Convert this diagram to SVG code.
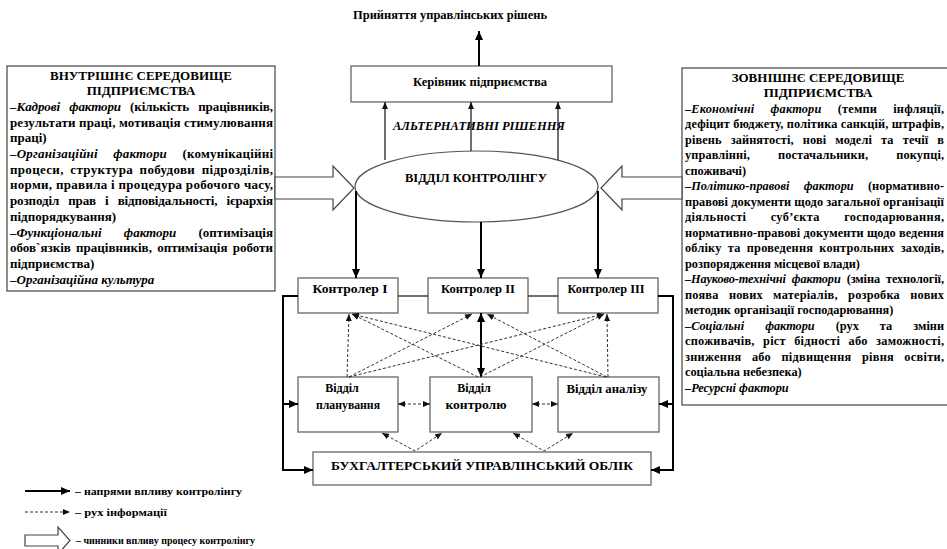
<svg xmlns="http://www.w3.org/2000/svg" width="947" height="549" viewBox="0 0 947 549">
<defs>
<style>
.t{font-family:"Liberation Serif","Times New Roman",serif;font-weight:bold;font-size:13px;fill:#000}
.s{font-size:12px}
.r{font-size:12.3px}
.c{text-anchor:middle}
.i{font-style:italic}
.box{fill:#fff;stroke:#666;stroke-width:1.3}
.env{fill:#fff;stroke:#444;stroke-width:1.2}
.thick{stroke:#000;stroke-width:2;fill:none}
.thin{stroke:#222;stroke-width:1.3;fill:none}
.dash{stroke:#333;stroke-width:1;stroke-dasharray:3 2;fill:none}
.hollow{fill:#fff;stroke:#444;stroke-width:1.2}
</style>
<marker id="a" markerUnits="userSpaceOnUse" markerWidth="9" markerHeight="8" viewBox="0 0 9 8" refX="9" refY="4" orient="auto-start-reverse"><path d="M0,0 L9,4 L0,8 z" fill="#000"/></marker>
<marker id="b" markerUnits="userSpaceOnUse" markerWidth="7" markerHeight="6" viewBox="0 0 7 6" refX="7" refY="3" orient="auto-start-reverse"><path d="M0,0 L7,3 L0,6 z" fill="#111"/></marker>
</defs>
<rect width="947" height="549" fill="#fff"/>

<g id="title">
<text class="t s c" x="450" y="19" textLength="194" lengthAdjust="spacingAndGlyphs">Прийняття управлінських рішень</text>
</g>

<g id="internal">
<rect class="env" x="7" y="66" width="268" height="225"/>
<text class="t c" x="141" y="79.5">ВНУТРІШНЄ СЕРЕДОВИЩЕ</text>
<text class="t c" x="141" y="95.2">ПІДПРИЄМСТВА</text>
<text class="t" x="10" y="110.9" textLength="263" lengthAdjust="spacing" style="word-spacing:6px"><tspan class="i">–Кадрові фактори</tspan> (кількість працівників,</text>
<text class="t" x="10" y="126.6" textLength="263" lengthAdjust="spacing">результати праці, мотивація стимулювання</text>
<text class="t" x="10" y="142.3">праці)</text>
<text class="t" x="10" y="158" textLength="263" lengthAdjust="spacing" style="word-spacing:12px"><tspan class="i">–Організаційні фактори</tspan> (комунікаційні</text>
<text class="t" x="10" y="173.7" textLength="263" lengthAdjust="spacing" style="word-spacing:3px">процеси, структура побудови підрозділів,</text>
<text class="t" x="10" y="189.4" textLength="263" lengthAdjust="spacing">норми, правила і процедура робочого часу,</text>
<text class="t" x="10" y="205.1" textLength="263" lengthAdjust="spacing" style="word-spacing:6px">розподіл прав і відповідальності, ієрархія</text>
<text class="t" x="10" y="220.8">підпорядкування)</text>
<text class="t" x="10" y="236.5" textLength="263" lengthAdjust="spacing" style="word-spacing:19px"><tspan class="i">–Функціональні фактори</tspan> (оптимізація</text>
<text class="t" x="10" y="252.2" textLength="263" lengthAdjust="spacing" style="word-spacing:2px">обов`язків працівників, оптимізація роботи</text>
<text class="t" x="10" y="267.9">підприємства)</text>
<text class="t" x="10" y="283.6"><tspan class="i">–Організаційна культура</tspan></text>
</g>

<g id="external">
<rect class="env" x="682" y="68" width="290" height="337"/>
<text class="t c" x="818" y="81.5">ЗОВНІШНЄ СЕРЕДОВИЩЕ</text>
<text class="t c" x="818" y="97">ПІДПРИЄМСТВА</text>
<text class="t r" x="685" y="112.5" textLength="259" lengthAdjust="spacing" style="word-spacing:13px"><tspan class="i">–Економічні фактори</tspan> (темпи інфляції,</text>
<text class="t r" x="685" y="128" textLength="259" lengthAdjust="spacing">дефіцит бюджету, політика санкцій, штрафів,</text>
<text class="t r" x="685" y="143.5" textLength="259" lengthAdjust="spacing" style="word-spacing:6px">рівень зайнятості, нові моделі та течії в</text>
<text class="t r" x="685" y="159" textLength="259" lengthAdjust="spacing" style="word-spacing:25px">управлінні, постачальники, покупці,</text>
<text class="t r" x="685" y="174.5">споживачі)</text>
<text class="t r" x="685" y="190" textLength="259" lengthAdjust="spacing" style="word-spacing:11px"><tspan class="i">–Політико-правові фактори</tspan> (нормативно-</text>
<text class="t r" x="685" y="205.5" textLength="259" lengthAdjust="spacing">правові документи щодо загальної організації</text>
<text class="t r" x="685" y="221" textLength="259" lengthAdjust="spacing" style="word-spacing:21px">діяльності суб’єкта господарювання,</text>
<text class="t r" x="685" y="236.5" textLength="259" lengthAdjust="spacing">нормативно-правові документи щодо ведення</text>
<text class="t r" x="685" y="252" textLength="259" lengthAdjust="spacing" style="word-spacing:3px">обліку та проведення контрольних заходів,</text>
<text class="t r" x="685" y="267.5">розпорядження місцевої влади)</text>
<text class="t r" x="685" y="283" textLength="259" lengthAdjust="spacing" style="word-spacing:3px"><tspan class="i">–Науково-технічні фактори</tspan> (зміна технології,</text>
<text class="t r" x="685" y="298.5" textLength="259" lengthAdjust="spacing" style="word-spacing:7px">поява нових матеріалів, розробка нових</text>
<text class="t r" x="685" y="314">методик організації господарювання)</text>
<text class="t r" x="685" y="329.5" textLength="259" lengthAdjust="spacing" style="word-spacing:18px"><tspan class="i">–Соціальні фактори</tspan> (рух та зміни</text>
<text class="t r" x="685" y="345" textLength="259" lengthAdjust="spacing" style="word-spacing:5px">споживачів, ріст бідності або заможності,</text>
<text class="t r" x="685" y="360.5" textLength="259" lengthAdjust="spacing" style="word-spacing:7px">зниження або підвищення рівня освіти,</text>
<text class="t r" x="685" y="376">соціальна небезпека)</text>
<text class="t r" x="685" y="391.5"><tspan class="i">–Ресурсні фактори</tspan></text>
</g>

<g id="manager">
<rect class="box" x="351" y="66" width="261" height="36"/>
<text class="t s c" x="480" y="86" textLength="134" lengthAdjust="spacingAndGlyphs">Керівник підприємства</text>
</g>

<g id="alternatives">
<text class="t s c i" x="479" y="130" textLength="172" lengthAdjust="spacingAndGlyphs">АЛЬТЕРНАТИВНІ РІШЕННЯ</text>
</g>

<g id="controlling">
<ellipse cx="476.5" cy="186.5" rx="121.5" ry="35.5" fill="#fff" stroke="#555" stroke-width="1.2"/>
<text class="t s c" x="476" y="181.5" textLength="142" lengthAdjust="spacingAndGlyphs">ВІДДІЛ КОНТРОЛІНГУ</text>
</g>

<g id="controller1">
<rect class="box" x="298" y="278" width="100" height="35"/>
<text class="t s c" x="350" y="293" textLength="75" lengthAdjust="spacingAndGlyphs">Контролер І</text>
</g>
<g id="controller2">
<rect class="box" x="428" y="278" width="100" height="35"/>
<text class="t s c" x="478" y="293" textLength="74" lengthAdjust="spacingAndGlyphs">Контролер ІІ</text>
</g>
<g id="controller3">
<rect class="box" x="558" y="278" width="100" height="35"/>
<text class="t s c" x="606" y="293" textLength="77" lengthAdjust="spacingAndGlyphs">Контролер ІІІ</text>
</g>

<g id="planning">
<rect class="box" x="298" y="377" width="100" height="55"/>
<text class="t s c" x="342" y="392">Відділ</text>
<text class="t s c" x="348" y="409" textLength="64" lengthAdjust="spacingAndGlyphs">планування</text>
</g>
<g id="control">
<rect class="box" x="430" y="377" width="102" height="55"/>
<text class="t s c" x="474" y="392">Відділ</text>
<text class="t s c" x="476" y="409" textLength="61" lengthAdjust="spacingAndGlyphs">контролю</text>
</g>
<g id="analysis">
<rect class="box" x="558" y="377" width="101" height="55"/>
<text class="t s c" x="607" y="393" textLength="81" lengthAdjust="spacingAndGlyphs">Відділ аналізу</text>
</g>

<g id="accounting">
<rect class="box" x="313" y="452" width="338" height="33"/>
<text class="t s c" x="482" y="470" textLength="302" lengthAdjust="spacingAndGlyphs">БУХГАЛТЕРСЬКИЙ УПРАВЛІНСЬКИЙ ОБЛІК</text>
</g>

<g id="connectors">
<line class="thick" x1="479" y1="66" x2="479" y2="31" marker-end="url(#a)"/>
<line class="thin" x1="385" y1="160" x2="385" y2="102" marker-end="url(#b)" stroke="#777"/>
<line class="thin" x1="471" y1="151" x2="471" y2="102" marker-end="url(#b)" stroke="#888"/>
<line class="thin" x1="558" y1="160" x2="558" y2="102" marker-end="url(#b)"/>
<polygon class="hollow" points="275,177 333,177 333,166 354,188 333,210 333,199 275,199"/>
<polygon class="hollow" points="682,177 622,177 622,166 601,188 622,210 622,199 682,199"/>
<line class="thick" x1="356" y1="191" x2="356" y2="278" marker-end="url(#a)" stroke-width="1.8"/>
<line class="thick" x1="481" y1="222" x2="481" y2="278" marker-end="url(#a)" stroke-width="1.8"/>
<line class="thick" x1="598" y1="191" x2="598" y2="278" marker-end="url(#a)" stroke-width="1.8"/>
<line class="thin" x1="398" y1="296" x2="428" y2="296"/>
<line class="thin" x1="528" y1="296" x2="558" y2="296"/>
<polyline class="thick" points="298,296 283,296 283,470 313,470" marker-end="url(#a)"/>
<line class="thick" x1="283" y1="404" x2="298" y2="404" marker-end="url(#a)"/>
<polyline class="thick" points="658,296 673,296 673,470 651,470" marker-end="url(#a)"/>
<line class="thick" x1="673" y1="404" x2="659" y2="404" marker-end="url(#a)"/>
<line class="thick" x1="481" y1="313" x2="481" y2="377" marker-start="url(#a)" marker-end="url(#a)"/>
<line class="dash" x1="347" y1="377" x2="349" y2="314" marker-end="url(#b)"/>
<line class="dash" x1="478" y1="377" x2="352" y2="314" marker-end="url(#b)"/>
<line class="dash" x1="606" y1="377" x2="352" y2="314" marker-end="url(#b)"/>
<line class="dash" x1="349" y1="377" x2="472" y2="314" marker-end="url(#b)"/>
<line class="dash" x1="607" y1="377" x2="487" y2="314" marker-end="url(#b)"/>
<line class="dash" x1="349" y1="377" x2="604" y2="314" marker-end="url(#b)"/>
<line class="dash" x1="480" y1="377" x2="604" y2="314" marker-end="url(#b)"/>
<line class="dash" x1="608" y1="377" x2="607" y2="314" marker-end="url(#b)"/>
<line class="dash" x1="398" y1="404" x2="430" y2="404" marker-start="url(#b)" marker-end="url(#b)"/>
<line class="dash" x1="532" y1="404" x2="558" y2="404" marker-start="url(#b)" marker-end="url(#b)"/>
<polyline class="dash" points="382,433 415,451 442,433" marker-start="url(#b)" marker-end="url(#b)"/>
<polyline class="dash" points="513,433 544,451 573,433" marker-start="url(#b)" marker-end="url(#b)"/>
</g>

<g id="legend">
<line class="thick" x1="25" y1="491" x2="70" y2="491" marker-end="url(#a)"/>
<text class="t" x="75" y="494.5" style="font-size:10px" textLength="167" lengthAdjust="spacingAndGlyphs">– напрями впливу контролінгу</text>
<line class="dash" x1="25" y1="512" x2="70" y2="512" marker-end="url(#b)" stroke="#000"/>
<text class="t" x="75" y="515.5" style="font-size:10px" textLength="92" lengthAdjust="spacingAndGlyphs">– рух інформації</text>
<polygon class="hollow" points="25,535 58,535 58,527 70,540.5 58,554 58,546 25,546"/>
<text class="t" x="76" y="544" style="font-size:10px" textLength="179" lengthAdjust="spacingAndGlyphs">– чинники впливу процесу контролінгу</text>
</g>
</svg>
